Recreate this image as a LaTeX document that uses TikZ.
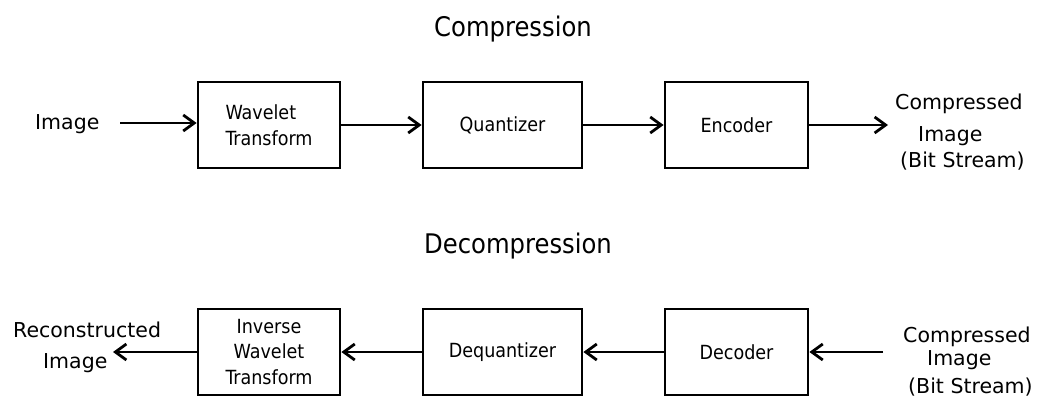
\documentclass[tikz,border=0pt]{standalone}
\usepackage{fontspec}
\setmainfont{DejaVu Sans}
\newfontfamily\condf{DejaVu Sans Condensed}
\usetikzlibrary{arrows.meta}
\begin{document}
\begin{tikzpicture}[x=1pt,y=-1pt,
  box/.style={draw, line width=2.8pt, minimum width=142pt, minimum height=86pt, inner sep=0pt,
    font=\condf\fontsize{19.5}{25.5}\selectfont, align=center},
  lbl/.style={font=\fontsize{20.5}{26}\selectfont, anchor=base west, inner sep=0pt},
  ttl/.style={font=\condf\fontsize{27}{32}\selectfont, anchor=base, inner sep=0pt},
  arr/.style={line width=2.8pt, -{Straight Barb[length=11pt,width=16pt,line width=2.8pt]}}]
\useasboundingbox (0,0) rectangle (1057,398);

% titles
\node[ttl] (t1) at (513,37) {Compression};
\node[ttl] (t2) at (518,253) {Decompression};

% compression row
\node[box, align=left] (wt) at (269,125) {Wavelet\\Transform};
\node[box, minimum width=159pt] (q) at (502.5,125) {Quantizer};
\node[box, minimum width=143pt] (enc) at (736.5,125) {Encoder};

\node[lbl] (in) at (35,130) {Image};
\coordinate (inS) at (120,123);
\draw[arr] (inS) -- (inS -| wt.west);
\draw[arr] (wt) -- (q);
\draw[arr] (q) -- (enc);
\coordinate (outE) at (888,126);
\draw[arr] (enc.east) -- (enc.east -| outE);

\node[lbl] (o1) at (895,110) {Compressed};
\node[lbl] (o2) at (918,142) {Image};
\node[lbl] (o3) at (900,168) {(Bit Stream)};

% decompression row
\node[box, minimum height=86pt] (iwt) at (269,352) {Inverse\\Wavelet\\Transform};
\node[box, minimum width=159pt] (dq) at (502.5,352) {Dequantizer};
\node[box, minimum width=143pt] (dec) at (736.5,352) {Decoder};

\coordinate (inB) at (883,352);
\draw[arr] (inB) -- (inB -| dec.east);
\draw[arr] (dec) -- (dq);
\draw[arr] (dq) -- (iwt);
\coordinate (recE) at (113,350);
\draw[arr] (iwt.west) -- (iwt.west -| recE);

\node[lbl] (r1) at (13,337) {Reconstructed};
\node[lbl] (r2) at (43,368) {Image};

\node[lbl] (b1) at (903,342) {Compressed};
\node[lbl] (b2) at (927,365) {Image};
\node[lbl] (b3) at (908,393) {(Bit Stream)};
\end{tikzpicture}
\end{document}
